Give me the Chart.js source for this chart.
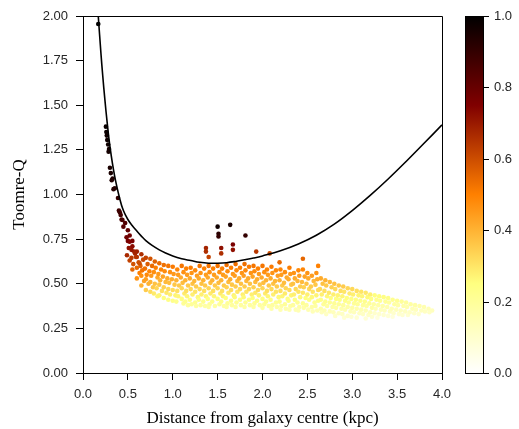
<!DOCTYPE html>
<html><head><meta charset="utf-8">
<script src="https://cdn.jsdelivr.net/npm/chart.js@4.4.1/dist/chart.umd.min.js"></script>
<style>html,body{margin:0;padding:0;background:#fff;}canvas{display:block}</style>
</head><body>
<canvas id="c" width="519" height="429"></canvas>
<script>
// ---- tick labels ----
const xTickValues = [0.0, 0.5, 1.0, 1.5, 2.0, 2.5, 3.0, 3.5, 4.0];
const yTickValues = [0.00, 0.25, 0.50, 0.75, 1.00, 1.25, 1.50, 1.75, 2.00];
const cbTicks = [0.0, 0.2, 0.4, 0.6, 0.8, 1.0];

// ---- critical curve ----
const curveX = [0.17,0.20,0.22,0.244,0.27,0.30,0.35,0.41,0.45,0.50,0.55,0.60,0.65,0.70,0.77,0.85,0.92,1.00,1.10,1.20,1.30,1.40,1.50,1.60,1.70,1.80,1.90,2.00,2.20,2.40,2.60,2.80,3.00,3.20,3.40,3.60,3.80,4.00];
const curveQ = [2.00,1.79,1.665,1.53,1.40,1.27,1.11,0.975,0.91,0.86,0.825,0.795,0.767,0.742,0.715,0.69,0.672,0.655,0.64,0.63,0.62,0.615,0.615,0.618,0.625,0.634,0.644,0.656,0.685,0.723,0.772,0.834,0.91,0.995,1.087,1.185,1.287,1.39];

// ---- scatter points: [distance, Q, colour value] ----
const innerTrail = [
[0.17,1.955,1.0],[0.255,1.38,0.98],[0.26,1.35,0.98],[0.265,1.33,0.97],[0.27,1.305,0.97],[0.28,1.28,0.97],[0.29,1.255,0.96],[0.285,1.24,0.96],
[0.30,1.15,0.95],[0.31,1.12,0.95],[0.32,1.08,0.94],[0.33,1.09,0.94],[0.34,1.03,0.93],[0.355,1.035,0.93],[0.39,0.98,0.9],[0.40,0.91,0.88],
[0.42,0.885,0.87],[0.41,0.90,0.88],[0.44,0.857,0.85],[0.47,0.84,0.84],[0.45,0.82,0.83],[0.485,0.76,0.78],[0.52,0.77,0.78],[0.50,0.80,0.81],
[0.55,0.74,0.76],[0.43,0.86,0.86],[0.52,0.735,0.75],[0.54,0.69,0.71],[0.58,0.67,0.68],[0.60,0.65,0.65],[0.63,0.615,0.6]
];

const outliers = [
[1.50,0.82,0.97],[1.64,0.83,0.95],[1.51,0.78,0.92],[1.51,0.765,0.9],[1.81,0.77,0.9],[1.37,0.70,0.68],[1.37,0.68,0.66],
[1.54,0.70,0.72],[1.67,0.72,0.76],[1.67,0.69,0.72],[1.54,0.67,0.66],[1.93,0.68,0.64],[2.08,0.67,0.6],[1.40,0.65,0.62],
[2.19,0.62,0.54],[2.45,0.64,0.55],[2.62,0.60,0.5]
];

const cloud = [
[0.50,0.74,0.77],[0.51,0.70,0.72],[0.49,0.66,0.67],[0.52,0.63,0.62],
[0.55,0.71,0.73],[0.57,0.68,0.68],[0.54,0.645,0.64],[0.56,0.61,0.59],[0.55,0.58,0.55],
[0.60,0.68,0.69],[0.59,0.65,0.64],[0.62,0.62,0.60],[0.60,0.59,0.55],[0.63,0.56,0.50],[0.60,0.53,0.46],
[0.65,0.665,0.66],[0.67,0.635,0.61],[0.64,0.60,0.56],[0.66,0.575,0.52],[0.65,0.545,0.47],[0.68,0.515,0.43],[0.65,0.49,0.40],
[0.70,0.645,0.62],[0.72,0.61,0.57],[0.69,0.585,0.53],[0.71,0.55,0.48],[0.70,0.525,0.44],[0.73,0.50,0.40],[0.70,0.465,0.35],
[0.75,0.64,0.59],[0.77,0.60,0.54],[0.74,0.57,0.49],[0.76,0.545,0.45],[0.75,0.51,0.40],[0.78,0.48,0.36],[0.75,0.455,0.32],
[0.80,0.625,0.56],[0.81,0.59,0.505],[0.79,0.565,0.47],[0.83,0.535,0.42],[0.80,0.50,0.37],[0.82,0.475,0.33],[0.79,0.445,0.29],[0.83,0.43,0.265],
[0.85,0.615,0.54],[0.87,0.58,0.49],[0.84,0.555,0.45],[0.86,0.52,0.40],[0.85,0.495,0.36],[0.88,0.46,0.31],[0.85,0.435,0.27],
[0.90,0.605,0.53],[0.91,0.57,0.475],[0.89,0.54,0.43],[0.92,0.51,0.385],[0.90,0.48,0.34],[0.93,0.45,0.295],[0.90,0.42,0.25],
[0.95,0.60,0.52],[0.97,0.565,0.47],[0.94,0.53,0.415],[0.96,0.505,0.38],[0.95,0.47,0.325],[0.97,0.44,0.28],[0.95,0.41,0.235],
[1.00,0.595,0.51],[1.01,0.555,0.45],[0.99,0.525,0.41],[1.02,0.495,0.36],[1.00,0.465,0.32],[1.03,0.435,0.27],[1.00,0.405,0.23],
[1.05,0.58,0.49],[1.06,0.55,0.445],[1.04,0.52,0.40],[1.07,0.49,0.355],[1.05,0.46,0.31],[1.06,0.43,0.265],[1.04,0.40,0.22],
[1.10,0.60,0.52],[1.12,0.565,0.47],[1.09,0.535,0.42],[1.11,0.505,0.38],[1.10,0.475,0.33],[1.13,0.445,0.29],[1.10,0.415,0.24],[1.12,0.39,0.205],
[1.15,0.585,0.50],[1.16,0.55,0.445],[1.14,0.52,0.40],[1.17,0.49,0.355],[1.15,0.46,0.31],[1.16,0.43,0.265],[1.14,0.40,0.22],[1.17,0.38,0.19],
[1.20,0.59,0.505],[1.21,0.56,0.46],[1.19,0.53,0.415],[1.22,0.50,0.37],[1.20,0.47,0.325],[1.22,0.44,0.28],[1.19,0.41,0.235],[1.21,0.385,0.20],
[1.25,0.575,0.48],[1.27,0.545,0.44],[1.24,0.515,0.39],[1.26,0.485,0.35],[1.25,0.455,0.30],[1.28,0.425,0.26],[1.25,0.395,0.21],[1.26,0.375,0.18],
[1.30,0.60,0.52],[1.31,0.56,0.46],[1.29,0.53,0.415],[1.32,0.50,0.37],[1.30,0.47,0.325],[1.32,0.44,0.28],[1.29,0.41,0.235],[1.31,0.38,0.19],
[1.35,0.585,0.50],[1.37,0.55,0.445],[1.34,0.52,0.40],[1.36,0.49,0.355],[1.35,0.46,0.31],[1.37,0.43,0.265],[1.34,0.40,0.22],[1.36,0.375,0.18],
[1.40,0.60,0.52],[1.41,0.565,0.47],[1.39,0.535,0.42],[1.42,0.505,0.38],[1.40,0.475,0.33],[1.42,0.445,0.29],[1.39,0.415,0.24],[1.41,0.385,0.20],[1.40,0.37,0.175],
[1.45,0.585,0.50],[1.46,0.55,0.445],[1.44,0.52,0.40],[1.47,0.49,0.355],[1.45,0.46,0.31],[1.46,0.43,0.265],[1.44,0.40,0.22],[1.47,0.375,0.18],
[1.50,0.60,0.52],[1.52,0.565,0.47],[1.49,0.535,0.42],[1.51,0.505,0.38],[1.50,0.475,0.33],[1.53,0.445,0.29],[1.50,0.415,0.24],[1.52,0.385,0.20],
[1.55,0.585,0.50],[1.56,0.55,0.445],[1.54,0.52,0.40],[1.57,0.49,0.355],[1.55,0.46,0.31],[1.56,0.43,0.265],[1.54,0.40,0.22],[1.57,0.375,0.18],
[1.60,0.605,0.53],[1.61,0.57,0.475],[1.59,0.54,0.43],[1.62,0.51,0.385],[1.60,0.48,0.34],[1.62,0.45,0.295],[1.59,0.42,0.25],[1.61,0.39,0.205],[1.60,0.37,0.175],
[1.65,0.59,0.505],[1.67,0.555,0.45],[1.64,0.525,0.41],[1.66,0.495,0.36],[1.65,0.465,0.32],[1.68,0.435,0.27],[1.65,0.405,0.23],[1.66,0.38,0.19],
[1.70,0.61,0.535],[1.71,0.575,0.48],[1.69,0.545,0.44],[1.72,0.515,0.39],[1.70,0.485,0.35],[1.72,0.455,0.30],[1.69,0.425,0.26],[1.71,0.395,0.21],[1.70,0.37,0.175],
[1.75,0.59,0.505],[1.77,0.56,0.46],[1.74,0.53,0.415],[1.76,0.50,0.37],[1.75,0.47,0.325],[1.78,0.44,0.28],[1.75,0.41,0.235],[1.76,0.38,0.19],
[1.80,0.61,0.535],[1.81,0.575,0.48],[1.79,0.545,0.44],[1.82,0.515,0.39],[1.80,0.485,0.35],[1.82,0.455,0.30],[1.79,0.425,0.26],[1.81,0.395,0.21],[1.80,0.37,0.175],
[1.85,0.595,0.51],[1.87,0.56,0.46],[1.84,0.53,0.415],[1.86,0.50,0.37],[1.85,0.47,0.325],[1.88,0.44,0.28],[1.85,0.41,0.235],[1.86,0.38,0.19],
[1.90,0.60,0.52],[1.91,0.57,0.475],[1.89,0.54,0.43],[1.92,0.51,0.385],[1.90,0.48,0.34],[1.92,0.45,0.295],[1.89,0.42,0.25],[1.91,0.39,0.205],[1.90,0.37,0.175],
[1.95,0.585,0.50],[1.96,0.555,0.45],[1.94,0.525,0.41],[1.97,0.495,0.36],[1.95,0.465,0.32],[1.96,0.435,0.27],[1.94,0.405,0.23],[1.97,0.38,0.19],
[2.00,0.60,0.52],[2.02,0.565,0.47],[1.99,0.535,0.42],[2.01,0.505,0.38],[2.00,0.475,0.33],[2.03,0.445,0.29],[2.00,0.415,0.24],[2.02,0.385,0.20],[2.00,0.365,0.17],
[2.05,0.58,0.49],[2.06,0.55,0.445],[2.04,0.52,0.40],[2.07,0.49,0.355],[2.05,0.46,0.31],[2.06,0.43,0.265],[2.04,0.40,0.22],[2.07,0.375,0.18],
[2.10,0.595,0.51],[2.11,0.56,0.46],[2.09,0.53,0.415],[2.12,0.50,0.37],[2.10,0.47,0.325],[2.12,0.44,0.28],[2.09,0.41,0.235],[2.11,0.38,0.19],[2.10,0.36,0.16],
[2.15,0.575,0.48],[2.17,0.545,0.44],[2.14,0.515,0.39],[2.16,0.485,0.35],[2.15,0.455,0.30],[2.18,0.425,0.26],[2.15,0.395,0.21],[2.16,0.37,0.175],
[2.20,0.58,0.49],[2.21,0.55,0.445],[2.19,0.52,0.40],[2.22,0.49,0.355],[2.20,0.46,0.31],[2.22,0.43,0.265],[2.19,0.40,0.22],[2.21,0.375,0.18],[2.20,0.355,0.15],
[2.25,0.565,0.47],[2.27,0.535,0.42],[2.24,0.505,0.38],[2.26,0.475,0.33],[2.25,0.445,0.29],[2.28,0.415,0.24],[2.25,0.385,0.20],[2.26,0.36,0.16],
[2.30,0.59,0.505],[2.31,0.555,0.45],[2.29,0.525,0.41],[2.32,0.495,0.36],[2.30,0.465,0.32],[2.32,0.435,0.27],[2.29,0.405,0.23],[2.31,0.375,0.18],[2.30,0.355,0.15],
[2.35,0.56,0.46],[2.36,0.53,0.415],[2.34,0.50,0.37],[2.37,0.47,0.325],[2.35,0.44,0.28],[2.36,0.41,0.235],[2.34,0.38,0.19],[2.37,0.355,0.15],
[2.40,0.575,0.48],[2.41,0.545,0.44],[2.39,0.515,0.39],[2.42,0.485,0.35],[2.40,0.455,0.30],[2.42,0.425,0.26],[2.39,0.395,0.21],[2.41,0.37,0.175],[2.40,0.35,0.145],
[2.45,0.58,0.49],[2.47,0.54,0.43],[2.44,0.51,0.385],[2.46,0.48,0.34],[2.45,0.45,0.295],[2.48,0.42,0.25],[2.45,0.39,0.205],[2.46,0.365,0.17],
[2.50,0.56,0.46],[2.51,0.53,0.415],[2.49,0.50,0.37],[2.52,0.47,0.325],[2.50,0.44,0.28],[2.52,0.41,0.235],[2.49,0.38,0.19],[2.51,0.355,0.15],
[2.55,0.545,0.44],[2.57,0.515,0.39],[2.54,0.485,0.35],[2.56,0.455,0.30],[2.55,0.425,0.26],[2.58,0.395,0.21],[2.55,0.37,0.175],[2.56,0.345,0.14],
[2.60,0.56,0.46],[2.61,0.525,0.41],[2.59,0.495,0.36],[2.62,0.465,0.32],[2.60,0.435,0.27],[2.62,0.405,0.23],[2.59,0.375,0.18],[2.61,0.35,0.145],
[2.65,0.53,0.415],[2.67,0.50,0.37],[2.64,0.47,0.325],[2.66,0.44,0.28],[2.65,0.41,0.235],[2.68,0.385,0.20],[2.65,0.36,0.16],[2.66,0.34,0.13],
[2.70,0.52,0.40],[2.71,0.49,0.355],[2.69,0.46,0.31],[2.72,0.43,0.265],[2.70,0.40,0.22],[2.72,0.375,0.18],[2.69,0.35,0.145],[2.71,0.33,0.115],
[2.75,0.51,0.385],[2.77,0.48,0.34],[2.74,0.45,0.295],[2.76,0.42,0.25],[2.75,0.395,0.21],[2.78,0.37,0.175],[2.75,0.345,0.14],
[2.80,0.50,0.37],[2.81,0.47,0.325],[2.79,0.44,0.28],[2.82,0.415,0.24],[2.80,0.39,0.205],[2.82,0.365,0.17],[2.79,0.34,0.13],[2.81,0.32,0.10],
[2.85,0.49,0.355],[2.87,0.46,0.31],[2.84,0.435,0.27],[2.86,0.41,0.235],[2.85,0.385,0.20],[2.88,0.36,0.16],[2.85,0.335,0.12],
[2.90,0.485,0.35],[2.91,0.455,0.30],[2.89,0.43,0.265],[2.92,0.405,0.23],[2.90,0.38,0.19],[2.92,0.355,0.15],[2.89,0.33,0.115],[2.91,0.31,0.085],
[2.95,0.475,0.33],[2.97,0.445,0.29],[2.94,0.42,0.25],[2.96,0.395,0.21],[2.95,0.37,0.175],[2.98,0.345,0.14],[2.95,0.32,0.10],
[3.00,0.47,0.325],[3.01,0.44,0.28],[2.99,0.415,0.24],[3.02,0.39,0.205],[3.00,0.365,0.17],[3.02,0.34,0.13],[2.99,0.315,0.09],
[3.05,0.46,0.31],[3.07,0.435,0.27],[3.04,0.41,0.235],[3.06,0.385,0.20],[3.05,0.36,0.16],[3.08,0.335,0.12],[3.05,0.31,0.085],
[3.10,0.455,0.30],[3.11,0.43,0.265],[3.09,0.405,0.23],[3.12,0.38,0.19],[3.10,0.355,0.15],[3.12,0.33,0.115],
[3.15,0.45,0.295],[3.17,0.425,0.26],[3.14,0.40,0.22],[3.16,0.375,0.18],[3.15,0.35,0.145],[3.18,0.325,0.11],[3.15,0.305,0.08],
[3.20,0.44,0.28],[3.21,0.415,0.24],[3.19,0.39,0.205],[3.22,0.365,0.17],[3.20,0.34,0.13],[3.22,0.315,0.09],
[3.25,0.435,0.25],[3.27,0.41,0.215],[3.24,0.385,0.18],[3.26,0.36,0.14],[3.25,0.335,0.10],[3.28,0.31,0.065],
[3.30,0.43,0.245],[3.31,0.405,0.21],[3.29,0.38,0.17],[3.32,0.355,0.13],[3.30,0.33,0.095],
[3.35,0.425,0.24],[3.37,0.40,0.20],[3.34,0.375,0.16],[3.36,0.35,0.125],[3.35,0.325,0.09],
[3.40,0.42,0.23],[3.41,0.395,0.19],[3.39,0.37,0.155],[3.42,0.345,0.12],[3.40,0.32,0.08],
[3.45,0.41,0.215],[3.47,0.385,0.18],[3.44,0.36,0.14],[3.46,0.335,0.10],[3.45,0.315,0.07],
[3.50,0.405,0.21],[3.51,0.38,0.17],[3.49,0.355,0.13],[3.52,0.33,0.095],
[3.55,0.40,0.20],[3.57,0.375,0.16],[3.54,0.35,0.125],[3.56,0.325,0.09],
[3.60,0.395,0.19],[3.61,0.37,0.155],[3.59,0.345,0.12],[3.62,0.325,0.09],
[3.65,0.385,0.18],[3.67,0.36,0.14],[3.64,0.34,0.11],
[3.70,0.38,0.17],[3.71,0.355,0.13],[3.69,0.335,0.10],
[3.75,0.375,0.16],[3.77,0.35,0.125],[3.74,0.33,0.095],
[3.80,0.37,0.155],[3.81,0.345,0.12],
[3.85,0.36,0.14],[3.86,0.34,0.11],
[3.89,0.35,0.125]
];

// ---- afmhot_r colour map ----
function cmap(v){
  const t = 1 - Math.max(0, Math.min(1, v));
  const cl = u => Math.round(255 * Math.max(0, Math.min(1, u)));
  return `rgb(${cl(2*t)},${cl(2*t-0.5)},${cl(2*t-1)})`;
}

const allPts = cloud.concat(outliers, innerTrail);
const scatterData = allPts.map(p => ({x: p[0], y: p[1]}));
const scatterColors = allPts.map(p => cmap(p[2]));
const curveData = curveX.map((x, i) => ({x, y: curveQ[i]}));

const framePlugin = {
  id: 'frame',
  afterDraw(chart){
    const {ctx, chartArea: a} = chart;
    ctx.save();
    ctx.strokeStyle = '#000'; ctx.lineWidth = 1;
    ctx.beginPath();
    ctx.moveTo(a.left, a.top + 0.5); ctx.lineTo(a.right + 0.5, a.top + 0.5);
    ctx.lineTo(a.right + 0.5, a.bottom);
    ctx.stroke();
    // colour bar
    const x0 = Math.round(a.right) + 23, w = 18, top = Math.round(a.top), bot = Math.round(a.bottom);
    const g = ctx.createLinearGradient(0, bot, 0, top);
    [0, 0.25, 0.5, 0.75, 1].forEach(s => g.addColorStop(s, cmap(s)));
    ctx.fillStyle = g;
    ctx.fillRect(x0, top, w, bot - top);
    ctx.strokeRect(x0 + 0.5, top + 0.5, w, bot - top);
    ctx.fillStyle = '#262626';
    ctx.font = '13px "Liberation Sans", Arial, sans-serif';
    ctx.textAlign = 'left'; ctx.textBaseline = 'middle';
    cbTicks.forEach(v => {
      const y = Math.round(bot - v * (bot - top)) + 0.5;
      ctx.beginPath(); ctx.moveTo(x0 + w, y); ctx.lineTo(x0 + w + 6, y); ctx.stroke();
      ctx.fillText(v.toFixed(1), x0 + w + 11, y);
    });
    ctx.restore();
  }
};

const tickFont = {family: '"Liberation Sans", Arial, sans-serif', size: 13};
const titleFont = {family: '"Liberation Serif", "Times New Roman", serif', size: 17};

new Chart(document.getElementById('c'), {
  type: 'scatter',
  data: {
    datasets: [
      {type: 'line', data: curveData, borderColor: '#000', borderWidth: 1.6, pointRadius: 0,
       tension: 0.4, fill: false, order: 0},
      {type: 'scatter', data: scatterData, pointBackgroundColor: scatterColors, pointBorderWidth: 0,
       pointRadius: 2.3, order: 1}
    ]
  },
  options: {
    responsive: false, animation: false, devicePixelRatio: 1,
    layout: {padding: {top: 16, right: 77, left: 0, bottom: 0}},
    plugins: {legend: {display: false}, tooltip: {enabled: false}},
    scales: {
      x: {
        type: 'linear', min: 0, max: 4,
        afterFit: s => { s.height = 56; },
        afterBuildTicks: s => { s.ticks = xTickValues.map(v => ({value: v})); },
        ticks: {font: tickFont, color: '#262626', padding: 7, maxRotation: 0, callback: v => v.toFixed(1)},
        grid: {display: true, drawOnChartArea: false, drawTicks: true, tickLength: 7, color: '#000', lineWidth: 1},
        border: {display: true, color: '#000', width: 1},
        title: {display: true, text: 'Distance from galaxy centre (kpc)', font: titleFont, color: '#000', padding: {top: 0, bottom: 0}}
      },
      y: {
        type: 'linear', min: 0, max: 2,
        afterFit: s => { s.width = 83; },
        afterBuildTicks: s => { s.ticks = yTickValues.map(v => ({value: v})); },
        ticks: {font: tickFont, color: '#262626', padding: 8, callback: v => v.toFixed(2)},
        grid: {display: true, drawOnChartArea: false, drawTicks: true, tickLength: 7, color: '#000', lineWidth: 1},
        border: {display: true, color: '#000', width: 1},
        title: {display: true, text: 'Toomre-Q', font: titleFont, color: '#000', padding: {top: 9, bottom: 0}}
      }
    }
  },
  plugins: [framePlugin]
});
</script>
</body></html>
